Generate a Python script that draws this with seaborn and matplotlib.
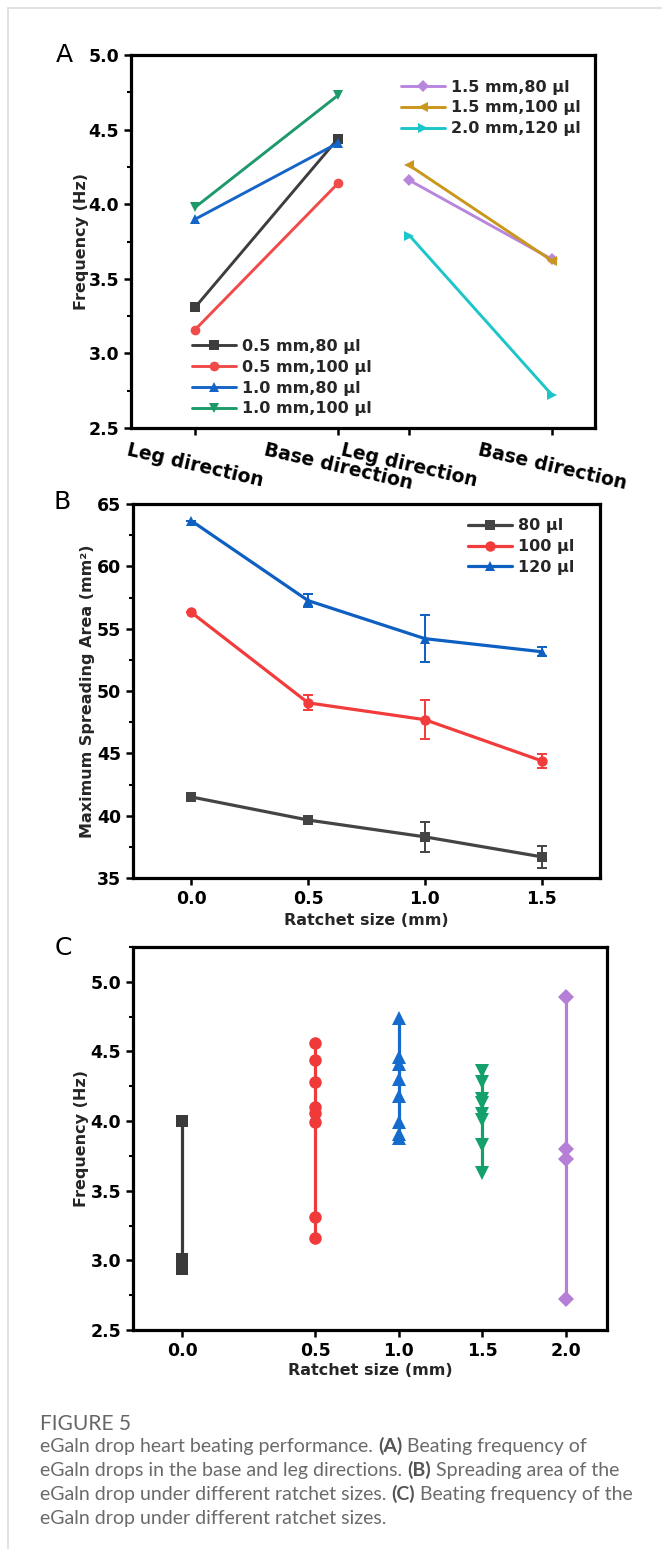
import numpy as np
import pandas as pd
import matplotlib
matplotlib.use("Agg")
import matplotlib.pyplot as plt
import seaborn as sns
from matplotlib.lines import Line2D
from matplotlib.ticker import MultipleLocator, NullLocator

# ---------------- data ----------------
# Panel A
a_positions = [0.0, 1.0, 1.5, 2.5]
a_ticklabels = ["Leg direction", "Base direction", "Leg direction", "Base direction"]
a_left_series = ["0.5 mm,80 μl", "0.5 mm,100 μl", "1.0 mm,80 μl", "1.0 mm,100 μl"]
a_left_leg = [3.31, 3.16, 3.90, 3.98]
a_left_base = [4.44, 4.14, 4.41, 4.73]
a_right_series = ["1.5 mm,80 μl", "1.5 mm,100 μl", "2.0 mm,120 μl"]
a_right_leg = [4.16, 4.26, 3.79]
a_right_base = [3.63, 3.62, 2.72]

# Panel B
b_ratchet = [0.0, 0.5, 1.0, 1.5]
b_volumes = ["80 μl", "100 μl", "120 μl"]
b_area_80 = [41.5, 39.65, 38.3, 36.7]
b_err_80 = [0.0, 0.15, 1.2, 0.9]
b_area_100 = [56.3, 49.05, 47.7, 44.4]
b_err_100 = [0.0, 0.6, 1.55, 0.55]
b_area_120 = [63.65, 57.25, 54.2, 53.15]
b_err_120 = [0.0, 0.55, 1.9, 0.35]

# Panel C
c_labels = ["0.0", "0.5", "1.0", "1.5", "2.0"]
c_positions = [-0.3, 0.5, 1.0, 1.5, 2.0]
c_freq_00 = [4.00, 3.01, 2.94]
c_freq_05 = [4.56, 4.44, 4.28, 4.10, 4.06, 3.99, 3.31, 3.16]
c_freq_10 = [4.74, 4.46, 4.41, 4.30, 4.18, 3.99, 3.91, 3.88]
c_freq_15 = [4.36, 4.28, 4.16, 4.13, 4.05, 4.01, 3.83, 3.63]
c_freq_20 = [4.89, 3.80, 3.73, 2.72]

# ---------------- style ----------------
sns.set_style("ticks")
plt.rcParams["font.family"] = ["DejaVu Sans"]
plt.rcParams["font.weight"] = "bold"
plt.rcParams["axes.labelweight"] = "bold"
plt.rcParams["axes.edgecolor"] = "black"
plt.rcParams["xtick.color"] = "black"
plt.rcParams["ytick.color"] = "black"

W, H = 662, 1549
fig = plt.figure(figsize=(W / 100, H / 100), dpi=100)
fig.patch.set_facecolor("white")


def add_axes_px(l, t, r, b):
    return fig.add_axes([l / W, 1 - b / H, (r - l) / W, (b - t) / H])


def style_axes(ax, ymin_step):
    for s in ax.spines.values():
        s.set_visible(True)
        s.set_linewidth(2.3)
        s.set_color("black")
    ax.tick_params(axis="both", which="major", direction="out", length=5,
                   width=1.8, labelsize=12.5, pad=3.5, top=False, right=False)
    ax.tick_params(axis="y", which="minor", direction="out", length=3,
                   width=1.5, left=True, right=False)
    ax.yaxis.set_minor_locator(MultipleLocator(ymin_step))
    ax.xaxis.set_minor_locator(NullLocator())
    ax.set_facecolor("white")


axA = add_axes_px(131, 55, 595, 428)
axB = add_axes_px(133, 504, 600, 878)
axC = add_axes_px(133, 947, 607, 1330)

# ---------------- Panel A ----------------
colA_left = ["#3d3d3d", "#f04a4a", "#1565c8", "#1e9a6a"]
mkA_left = ["s", "o", "^", "v"]
colA_right = ["#b886dc", "#c8971c", "#1cc5c8"]
mkA_right = ["D", "<", ">"]

handles_left = []
for name, leg, base, c, m in zip(a_left_series, a_left_leg, a_left_base, colA_left, mkA_left):
    df = pd.DataFrame({"pos": a_positions[:2], "freq": [leg, base]})
    n = len(axA.lines)
    sns.lineplot(data=df, x="pos", y="freq", ax=axA, color=c, marker=m,
                 markersize=7 if m != "s" else 6.5, markeredgewidth=0, linewidth=2.1,
                 estimator=None, legend=False)
    ln = axA.lines[n]
    ln.set_label(name)
    handles_left.append(ln)

handles_right = []
for name, leg, base, c, m in zip(a_right_series, a_right_leg, a_right_base, colA_right, mkA_right):
    df = pd.DataFrame({"pos": a_positions[2:], "freq": [leg, base]})
    n = len(axA.lines)
    sns.lineplot(data=df, x="pos", y="freq", ax=axA, color=c, marker=m,
                 markersize=6 if m == "D" else 7.5, markeredgewidth=0, linewidth=2.1,
                 estimator=None, legend=False)
    ln = axA.lines[n]
    ln.set_label(name)
    handles_right.append(ln)

style_axes(axA, 0.25)
axA.set_xlim(-0.45, 2.8)
axA.set_ylim(2.5, 5.0)
axA.set_yticks(np.arange(2.5, 5.01, 0.5))
axA.set_xticks(a_positions)
axA.set_xticklabels(a_ticklabels, rotation=-13, ha="center", fontsize=13.5,
                    fontweight="bold")
axA.tick_params(axis="x", pad=4)
axA.set_xlabel("")
axA.set_ylabel("Frequency (Hz)", fontsize=11.5, fontweight="bold")
axA.yaxis.set_label_coords(-0.09, 0.5)

leg_kw = dict(frameon=False, loc="center left", borderaxespad=0, borderpad=0,
              handlelength=2.75, handletextpad=0.4, labelspacing=0.36,
              prop={"weight": "bold", "size": 11.5})
legA1 = axA.legend(handles=handles_left, bbox_to_anchor=(0.1315, 0.135), **leg_kw)
axA.add_artist(legA1)
legA2 = axA.legend(handles=handles_right, bbox_to_anchor=(0.582, 0.858), **leg_kw)

# ---------------- Panel B ----------------
colB = ["#444444", "#f23c3c", "#0d5fc2"]
mkB = ["s", "o", "^"]
areasB = [b_area_80, b_area_100, b_area_120]
errsB = [b_err_80, b_err_100, b_err_120]
handles_B = []
for name, area, err, c, m in zip(b_volumes, areasB, errsB, colB, mkB):
    df = pd.DataFrame({"ratchet": b_ratchet, "area": area})
    n = len(axB.lines)
    sns.lineplot(data=df, x="ratchet", y="area", ax=axB, color=c, marker=m,
                 markersize=7.5 if m != "s" else 6.5, markeredgewidth=0, linewidth=2.3,
                 estimator=None, legend=False, zorder=3)
    ln = axB.lines[n]
    ln.set_label(name)
    handles_B.append(ln)
    axB.errorbar(b_ratchet, area, yerr=err, fmt="none", ecolor=c,
                 elinewidth=1.4, capsize=3.8, capthick=1.4, zorder=2)

style_axes(axB, 2.5)
axB.set_xlim(-0.25, 1.75)
axB.set_ylim(35, 65)
axB.set_xticks(b_ratchet)
axB.set_xticklabels([f"{v:.1f}" for v in b_ratchet])
axB.set_yticks(np.arange(35, 65.1, 5))
axB.set_xlabel("Ratchet size (mm)", fontsize=11.5, fontweight="bold")
axB.set_ylabel("Maximum Spreading Area (mm²)", fontsize=11.5, fontweight="bold")
axB.xaxis.set_label_coords(0.5, -0.094)
axB.yaxis.set_label_coords(-0.081, 0.5)
axB.legend(handles=handles_B, bbox_to_anchor=(0.717, 0.886), **leg_kw)

# ---------------- Panel C ----------------
colC = ["#3a3a3a", "#f03a3a", "#156ccc", "#13a06a", "#b57fd8"]
mkC = ["s", "o", "^", "v", "D"]
msC = [8, 9, 9.5, 9.5, 8]
freqsC = [c_freq_00, c_freq_05, c_freq_10, c_freq_15, c_freq_20]
for pos, fr, c, m, ms in zip(c_positions, freqsC, colC, mkC, msC):
    df = pd.DataFrame({"ratchet": [pos] * len(fr), "freq": fr})
    sns.lineplot(data=df, x="ratchet", y="freq", ax=axC, color=c, marker=m,
                 markersize=ms, markeredgewidth=0, linewidth=2.3,
                 estimator=None, legend=False)

style_axes(axC, 0.25)
axC.set_xlim(-0.594, 2.248)
axC.set_ylim(2.5, 5.25)
axC.set_yticks(np.arange(2.5, 5.01, 0.5))
axC.set_xticks(c_positions)
axC.set_xticklabels(c_labels)
axC.set_xlabel("Ratchet size (mm)", fontsize=11.5, fontweight="bold")
axC.set_ylabel("Frequency (Hz)", fontsize=11.5, fontweight="bold")
axC.xaxis.set_label_coords(0.5, -0.086)
axC.yaxis.set_label_coords(-0.093, 0.5)

for ax in (axA, axB, axC):
    for lab in ax.get_xticklabels() + ax.get_yticklabels():
        lab.set_fontweight("bold")

# ---------------- panel letters ----------------
for letter, (x, y) in zip(["A", "B", "C"], [(64, 55), (62, 502), (63, 948)]):
    fig.text(x / W, 1 - y / H, letter, fontsize=18, fontweight="normal",
             ha="center", va="center", color="black")

# ---------------- page frame ----------------
fig.add_artist(Line2D([8 / W, 8 / W], [0, 1 - 8 / H], transform=fig.transFigure,
                      color="#dcdcdc", linewidth=1.2))
fig.add_artist(Line2D([8 / W, 1], [1 - 8 / H, 1 - 8 / H], transform=fig.transFigure,
                      color="#dcdcdc", linewidth=1.2))

# ---------------- caption ----------------
cap_family = ["Lato", "DejaVu Sans"]
cap_color = "#6a6a6a"
cap_lines = [
    [("eGaln drop heart beating performance.", False), ("(A)", True), ("Beating frequency of", False)],
    [("eGaln drops in the base and leg directions.", False), ("(B)", True), ("Spreading area of the", False)],
    [("eGaln drop under different ratchet sizes.", False), ("(C)", True), ("Beating frequency of the", False)],
    [("eGaln drop under different ratchet sizes.", False)],
]
renderer = fig.canvas.get_renderer()


def text_width(s, size, bold):
    t = fig.text(0, 0, s, fontsize=size, fontweight="bold" if bold else "normal",
                 family=cap_family)
    w = t.get_window_extent(renderer=renderer).width
    t.remove()
    return w


def line_width(segs, size):
    total = 0
    for i, (s, b) in enumerate(segs):
        total += text_width(s, size, b)
        if i < len(segs) - 1:
            total += text_width("x x", size, False) - text_width("xx", size, False)
    return total


base = 10.0
cap_size = base * 546.0 / line_width(cap_lines[0], base)

fig.text(40 / W, 1 - 1430 / H, "FIGURE 5", fontsize=cap_size * 1.08,
         family=cap_family, fontweight="normal", color="#666666",
         ha="left", va="baseline")
space_w = text_width("x x", cap_size, False) - text_width("xx", cap_size, False)
for i, segs in enumerate(cap_lines):
    y = 1452 + 24 * i
    x = 40.0
    for j, (s, b) in enumerate(segs):
        t = fig.text(x / W, 1 - y / H, s, fontsize=cap_size,
                     fontweight="bold" if b else "normal", family=cap_family,
                     color="#555555" if b else cap_color, ha="left", va="baseline")
        x += t.get_window_extent(renderer=renderer).width + space_w

fig.savefig("out.png", dpi=100, facecolor="white")
